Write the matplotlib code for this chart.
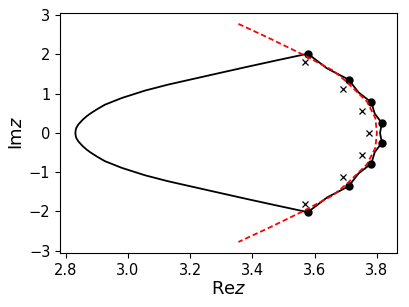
import numpy as np
import matplotlib
matplotlib.use('Agg')
import matplotlib.pyplot as plt

# left (smooth) part of the black contour, upper half
curve_y = [0.0, 0.07, 0.13, 0.22, 0.34, 0.43, 0.51, 0.61, 0.72, 0.89, 1.08, 1.23, 1.37, 1.52, 1.68, 1.85, 2.02]
curve_x = [2.831, 2.832, 2.834, 2.841, 2.855, 2.868, 2.882, 2.902, 2.926, 2.980, 3.055, 3.128, 3.206, 3.290, 3.380, 3.478, 3.578]

# right (scalloped) part: dots plus one inward-bent point between each pair
wave_y = [2.02, 1.644, 1.36, 1.033, 0.78, 0.491, 0.25, 0.0]
wave_x = [3.578, 3.640, 3.709, 3.741, 3.782, 3.793, 3.816, 3.810]

dots_y = [2.02, 1.36, 0.78, 0.25]
dots_x = [3.578, 3.709, 3.782, 3.816]

cross_y = [1.82, 1.13, 0.55, 0.0]
cross_x = [3.569, 3.691, 3.752, 3.773]

red_y = [2.78, 2.40, 1.99, 1.585, 1.30, 0.80, 0.38, 0.0]
red_x = [3.355, 3.458, 3.564, 3.660, 3.703, 3.768, 3.795, 3.800]


def mirror(x, y):
    # build full curve top -> bottom from the upper half
    x = np.asarray(x)
    y = np.asarray(y)
    return np.concatenate([x, x[::-1][1:]]), np.concatenate([y, -y[::-1][1:]])


def mirror_pts(x, y):
    x = np.asarray(x)
    y = np.asarray(y)
    keep = y != 0
    return np.concatenate([x, x[keep]]), np.concatenate([y, -y[keep]])


# black contour: left curve goes top -> vertex -> bottom, wave goes bottom -> top
lx, ly = mirror(curve_x[::-1], curve_y[::-1])
wx, wy = mirror(wave_x, wave_y)
bx = np.concatenate([lx, wx[::-1]])
by = np.concatenate([ly, wy[::-1]])

rx, ry = mirror(red_x, red_y)
dx, dy = mirror_pts(dots_x, dots_y)
cx, cy = mirror_pts(cross_x, cross_y)

fig = plt.figure(figsize=(4.09, 3.07), dpi=100)
ax = fig.add_axes([0.147, 0.176, 0.824, 0.782])
ax.plot(bx, by, 'k-', lw=1.3, solid_joinstyle='round')
ax.plot(dx, dy, 'ko', ms=5)
ax.plot(cx, cy, 'kx', ms=4.5, mew=0.9)
ax.plot(rx, ry, 'r--', lw=1.3, dashes=(3, 1.6))

ax.set_xlim(2.782, 3.865)
ax.set_ylim(-3.06, 3.06)
ax.set_xticks([2.8, 3.0, 3.2, 3.4, 3.6, 3.8])
ax.set_yticks([-3, -2, -1, 0, 1, 2, 3])
ax.tick_params(labelsize=10.5)
ax.set_xlabel('Re$z$', fontsize=13, labelpad=2)
ax.set_ylabel('Im$z$', fontsize=13, labelpad=2)

fig.savefig('out.png', dpi=100)
